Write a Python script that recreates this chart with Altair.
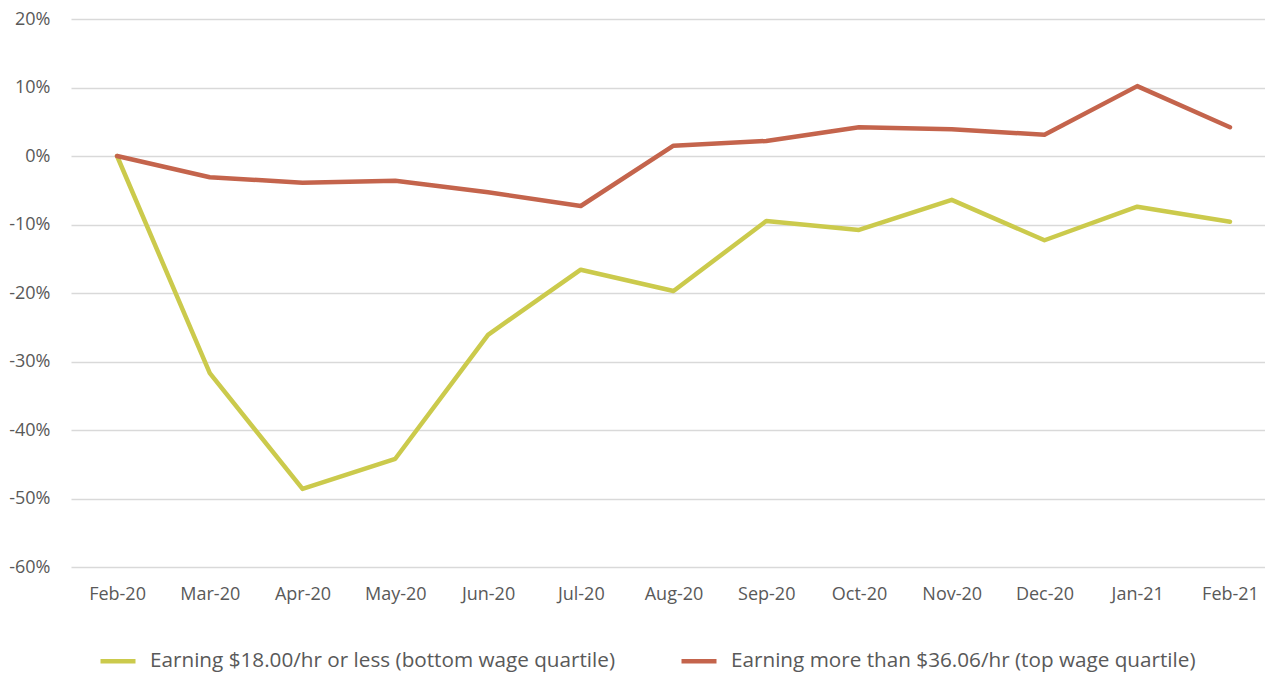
import altair as alt
import pandas as pd

months = ["Feb-20", "Mar-20", "Apr-20", "May-20", "Jun-20", "Jul-20", "Aug-20",
          "Sep-20", "Oct-20", "Nov-20", "Dec-20", "Jan-21", "Feb-21"]
bottom_label = "Earning $18.00/hr or less (bottom wage quartile)"
top_label = "Earning more than $36.06/hr (top wage quartile)"
bottom_vals = [0.0, -31.7, -48.6, -44.2, -26.1, -16.6, -19.7, -9.5, -10.8, -6.4, -12.3, -7.4, -9.6]
top_vals = [0.0, -3.1, -3.9, -3.6, -5.3, -7.3, 1.5, 2.2, 4.2, 3.9, 3.1, 10.2, 4.2]
y_ticks = [-60, -50, -40, -30, -20, -10, 0, 10, 20]
colors = ["#cbca4c", "#c4644c"]

rows = []
for m, v in zip(months, bottom_vals):
    rows.append({"month": m, "value": v, "series": bottom_label})
for m, v in zip(months, top_vals):
    rows.append({"month": m, "value": v, "series": top_label})
df = pd.DataFrame(rows)

FONT = "Open Sans"
TXT = "#595959"

chart = alt.Chart(df).mark_line(strokeWidth=4.5, strokeCap="round", strokeJoin="round").encode(
    x=alt.X("month:N", sort=months, title=None,
            scale=alt.Scale(type="point", padding=0.437, align=0.568),
            axis=alt.Axis(labelAngle=0, domain=False, ticks=False, grid=False,
                          labelFont=FONT, labelFontSize=18, labelColor=TXT,
                          labelPadding=18)),
    y=alt.Y("value:Q", title=None,
            scale=alt.Scale(domain=[-60, 20], nice=False, zero=False),
            axis=alt.Axis(values=y_ticks, domain=False, ticks=False,
                          gridColor="#d9d9d9", gridWidth=1.5,
                          labelExpr="(datum.value < 0 ? '-' : '') + abs(datum.value) + '%'",
                          labelFont=FONT, labelFontSize=18, labelColor=TXT,
                          labelPadding=21)),
    color=alt.Color("series:N", sort=[bottom_label, top_label],
                    scale=alt.Scale(domain=[bottom_label, top_label], range=colors),
                    legend=alt.Legend(title=None, orient="none", direction="horizontal",
                                      legendX=27, legendY=622,
                                      symbolType="stroke", symbolSize=1225,
                                      symbolStrokeWidth=4.5,
                                      labelFont=FONT, labelFontSize=20.7, labelColor=TXT,
                                      labelLimit=800, labelOffset=12,
                                      columnPadding=56)),
    detail="series:N",
).properties(
    width=1194, height=548,
    autosize=alt.AutoSizeParams(type="none"),
    padding={"left": 63, "top": 11, "right": 0, "bottom": 112},
).configure(background="white").configure_view(stroke=None)

chart.save("out.html", embed_options={"renderer": "svg", "actions": False})
